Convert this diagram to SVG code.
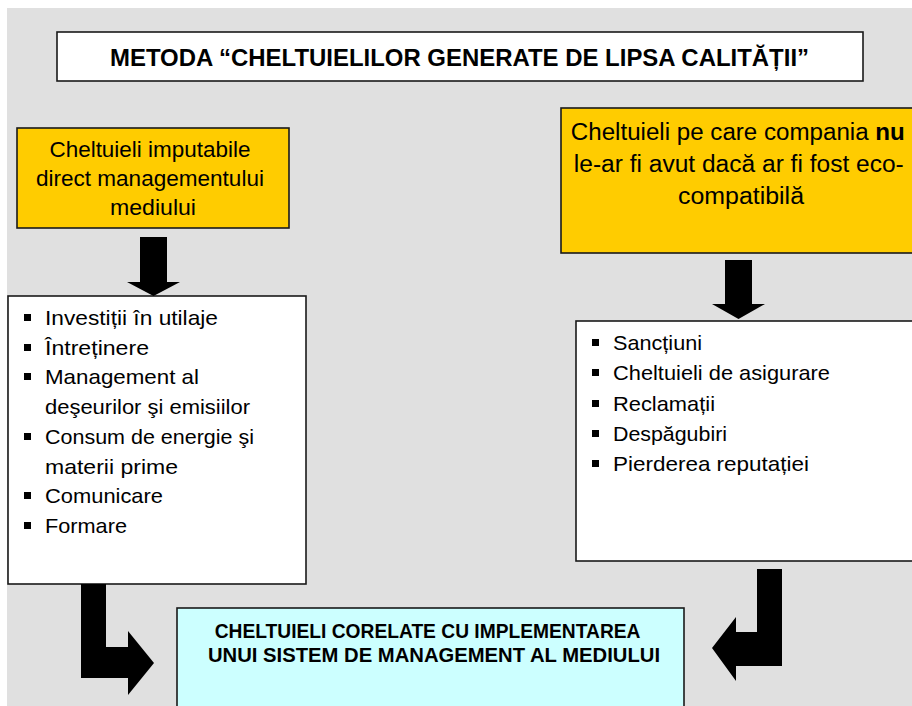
<svg xmlns="http://www.w3.org/2000/svg" width="912" height="706" viewBox="0 0 912 706">
<style>
.box{stroke:#1a1a1a;stroke-width:1.6}
.t{font-family:"Liberation Sans",Arial,sans-serif;fill:#000}
.b{font-weight:bold}
.c{text-anchor:middle}
.arrow{fill:#000}
.bul{fill:#000}
</style>
<rect x="0" y="0" width="912" height="706" fill="#ffffff"/>
<rect x="7" y="8" width="905" height="698" fill="#e0e0e0"/>

<g id="title">
<rect class="box" x="57" y="32" width="806" height="49" fill="#ffffff"/>
<text class="t b c" x="459.5" y="66" font-size="24" textLength="699" lengthAdjust="spacingAndGlyphs">METODA “CHELTUIELILOR GENERATE DE LIPSA CALITĂȚII”</text>
</g>

<g id="node-direct">
<rect class="box" x="17" y="128" width="272" height="100" fill="#ffcc00"/>
<text class="t c" font-size="22">
<tspan x="153" y="157" textLength="201" lengthAdjust="spacingAndGlyphs">Cheltuieli imputabile</tspan>
<tspan x="153" y="186" textLength="228" lengthAdjust="spacingAndGlyphs">direct managementului</tspan>
<tspan x="153" y="215" textLength="86" lengthAdjust="spacingAndGlyphs">mediului</tspan>
</text>
</g>

<g id="node-eco">
<rect class="box" x="561" y="108" width="356" height="145" fill="#ffcc00"/>
<text class="t c" font-size="23">
<tspan x="741" y="140" textLength="334" lengthAdjust="spacingAndGlyphs">Cheltuieli pe care compania <tspan class="b">nu</tspan></tspan>
<tspan x="742" y="172" textLength="330" lengthAdjust="spacingAndGlyphs">le-ar fi avut dacă ar fi fost eco-</tspan>
<tspan x="741" y="204" textLength="126" lengthAdjust="spacingAndGlyphs">compatibilă</tspan>
</text>
</g>

<g id="list-direct">
<rect class="box" x="8" y="296" width="298" height="288" fill="#ffffff"/>
<g class="bul">
<rect x="24" y="314" width="7" height="7"/>
<rect x="24" y="344" width="7" height="7"/>
<rect x="24" y="373" width="7" height="7"/>
<rect x="24" y="433" width="7" height="7"/>
<rect x="24" y="492" width="7" height="7"/>
<rect x="24" y="522" width="7" height="7"/>
</g>
<text class="t" font-size="21">
<tspan x="45" y="325" textLength="173" lengthAdjust="spacingAndGlyphs">Investiții în utilaje</tspan>
<tspan x="45" y="355" textLength="104" lengthAdjust="spacingAndGlyphs">Întreținere</tspan>
<tspan x="45" y="384" textLength="154" lengthAdjust="spacingAndGlyphs">Management al</tspan>
<tspan x="45" y="414" textLength="205" lengthAdjust="spacingAndGlyphs">deşeurilor şi emisiilor</tspan>
<tspan x="45" y="444" textLength="209" lengthAdjust="spacingAndGlyphs">Consum de energie şi</tspan>
<tspan x="45" y="474" textLength="133" lengthAdjust="spacingAndGlyphs">materii prime</tspan>
<tspan x="45" y="503" textLength="118" lengthAdjust="spacingAndGlyphs">Comunicare</tspan>
<tspan x="45" y="533" textLength="82" lengthAdjust="spacingAndGlyphs">Formare</tspan>
</text>
</g>

<g id="list-eco">
<rect class="box" x="576" y="321" width="341" height="240" fill="#ffffff"/>
<g class="bul">
<rect x="592" y="339" width="7" height="7"/>
<rect x="592" y="369" width="7" height="7"/>
<rect x="592" y="400" width="7" height="7"/>
<rect x="592" y="430" width="7" height="7"/>
<rect x="592" y="460" width="7" height="7"/>
</g>
<text class="t" font-size="21">
<tspan x="613" y="350" textLength="89" lengthAdjust="spacingAndGlyphs">Sancțiuni</tspan>
<tspan x="613" y="380" textLength="217" lengthAdjust="spacingAndGlyphs">Cheltuieli de asigurare</tspan>
<tspan x="613" y="411" textLength="102" lengthAdjust="spacingAndGlyphs">Reclamații</tspan>
<tspan x="613" y="441" textLength="114" lengthAdjust="spacingAndGlyphs">Despăgubiri</tspan>
<tspan x="613" y="471" textLength="196" lengthAdjust="spacingAndGlyphs">Pierderea reputației</tspan>
</text>
</g>

<g id="result">
<rect class="box" x="177" y="608" width="507" height="104" fill="#ccffff"/>
<text class="t b c" font-size="20">
<tspan x="430" y="638" textLength="425" lengthAdjust="spacingAndGlyphs">CHELTUIELI CORELATE CU IMPLEMENTAREA</tspan>
<tspan x="434" y="662" textLength="452" lengthAdjust="spacingAndGlyphs">UNUI SISTEM DE MANAGEMENT AL MEDIULUI</tspan>
</text>
</g>

<g id="connectors" class="arrow">
<path d="M140,237 H167 V282 H180 L153.5,296 L127,282 H140 Z"/>
<path d="M725,260 H752 V304 H765 L738.5,319 L712,304 H725 Z"/>
<path d="M81,584 H106 V647 H128 V631 L154,663 L128,695 V678 H81 Z"/>
<path d="M757,569 H782 V666 H736 V681 L712,648 L736,617 V632 H757 Z"/>
</g>
</svg>
